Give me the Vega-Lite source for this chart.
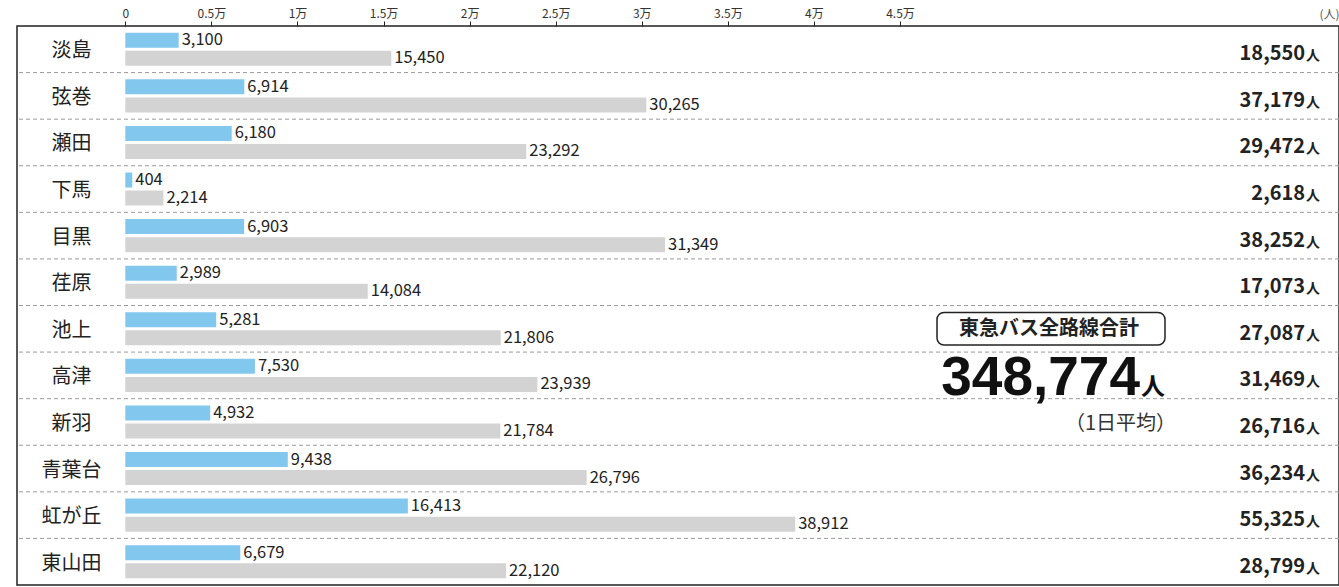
{
  "$schema": "https://vega.github.io/schema/vega-lite/v6.json",
  "width": 1322,
  "height": 559,
  "autosize": {"type": "none"},
  "padding": {"left": 17, "top": 26, "right": 0, "bottom": 2},
  "background": "white",
  "config": {
    "view": {"stroke": "#222", "strokeWidth": 1.5},
    "text": {"font": "Noto Sans CJK JP", "color": "#222"}
  },
  "datasets": {
    "bars": [
      {"station": "淡島", "type": "定期", "value": 3100},
      {"station": "淡島", "type": "定期外", "value": 15450},
      {"station": "弦巻", "type": "定期", "value": 6914},
      {"station": "弦巻", "type": "定期外", "value": 30265},
      {"station": "瀬田", "type": "定期", "value": 6180},
      {"station": "瀬田", "type": "定期外", "value": 23292},
      {"station": "下馬", "type": "定期", "value": 404},
      {"station": "下馬", "type": "定期外", "value": 2214},
      {"station": "目黒", "type": "定期", "value": 6903},
      {"station": "目黒", "type": "定期外", "value": 31349},
      {"station": "荏原", "type": "定期", "value": 2989},
      {"station": "荏原", "type": "定期外", "value": 14084},
      {"station": "池上", "type": "定期", "value": 5281},
      {"station": "池上", "type": "定期外", "value": 21806},
      {"station": "高津", "type": "定期", "value": 7530},
      {"station": "高津", "type": "定期外", "value": 23939},
      {"station": "新羽", "type": "定期", "value": 4932},
      {"station": "新羽", "type": "定期外", "value": 21784},
      {"station": "青葉台", "type": "定期", "value": 9438},
      {"station": "青葉台", "type": "定期外", "value": 26796},
      {"station": "虹が丘", "type": "定期", "value": 16413},
      {"station": "虹が丘", "type": "定期外", "value": 38912},
      {"station": "東山田", "type": "定期", "value": 6679},
      {"station": "東山田", "type": "定期外", "value": 22120}
    ],
    "stations": [
      {"station": "淡島", "total": 18550},
      {"station": "弦巻", "total": 37179},
      {"station": "瀬田", "total": 29472},
      {"station": "下馬", "total": 2618},
      {"station": "目黒", "total": 38252},
      {"station": "荏原", "total": 17073},
      {"station": "池上", "total": 27087},
      {"station": "高津", "total": 31469},
      {"station": "新羽", "total": 26716},
      {"station": "青葉台", "total": 36234},
      {"station": "虹が丘", "total": 55325},
      {"station": "東山田", "total": 28799}
    ],
    "summary": [
      {"label": "東急バス全路線合計", "total": 348774, "note": "（1日平均）"}
    ]
  },
  "layer": [
    {
      "data": {"name": "stations"},
      "transform": [{"filter": "datum.station != '淡島'"}],
      "mark": {"type": "rule", "color": "#9a9a9a", "strokeDash": [4, 3], "strokeWidth": 1},
      "encoding": {
        "y": {
          "field": "station", "type": "nominal", "bandPosition": 0,
          "scale": {"domain": ["淡島", "弦巻", "瀬田", "下馬", "目黒", "荏原", "池上", "高津", "新羽", "青葉台", "虹が丘", "東山田"], "paddingInner": 0, "paddingOuter": 0},
          "axis": {
            "title": null, "domain": false, "ticks": false, "tickSize": 0, "grid": false,
            "labelAlign": "center", "labelBaseline": "middle", "labelPadding": -54, "labelOffset": 2,
            "labelFont": "Noto Sans CJK JP", "labelFontSize": 20, "labelColor": "#222"
          }
        }
      }
    },
    {
      "data": {"name": "bars"},
      "mark": {"type": "bar"},
      "encoding": {
        "y": {"field": "station", "type": "nominal", "title": null},
        "yOffset": {"field": "type", "type": "nominal", "sort": ["定期", "定期外"], "scale": {"paddingInner": 0.1667, "paddingOuter": 0.377}},
        "x": {
          "field": "value", "type": "quantitative",
          "scale": {"domain": [-6291, 70498], "nice": false, "zero": false},
          "axis": {
            "orient": "top", "values": [0, 5000, 10000, 15000, 20000, 25000, 30000, 35000, 40000, 45000],
            "labelExpr": "datum.value == 0 ? '0' : (datum.value / 10000) + '万'",
            "domain": false, "grid": false, "tickSize": 5, "tickColor": "#222", "tickWidth": 1,
            "labelFont": "Noto Sans CJK JP", "labelFontSize": 12, "labelColor": "#333", "labelPadding": 1,
            "title": "(人)", "titleFont": "Noto Sans CJK JP", "titleFontSize": 12, "titleFontWeight": "normal",
            "titleColor": "#555", "titleX": 1322, "titleY": -12, "titleAlign": "right", "titleBaseline": "middle", "titleAnchor": "end"
          }
        },
        "color": {"field": "type", "type": "nominal", "scale": {"domain": ["定期", "定期外"], "range": ["#82c7ee", "#d3d3d3"]}, "legend": null}
      }
    },
    {
      "data": {"name": "bars"},
      "mark": {"type": "text", "align": "left", "baseline": "middle", "dx": 3, "fontSize": 16.5, "font": "Noto Sans CJK JP", "color": "#222"},
      "encoding": {
        "y": {"field": "station", "type": "nominal"},
        "yOffset": {"field": "type", "type": "nominal", "sort": ["定期", "定期外"]},
        "x": {"field": "value", "type": "quantitative"},
        "text": {"field": "value", "type": "quantitative", "format": ",d"}
      }
    },
    {
      "mark": {"type": "rule", "color": "#222", "strokeWidth": 1.5},
      "encoding": {"x": {"datum": 0, "type": "quantitative"}}
    },
    {
      "data": {"name": "stations"},
      "mark": {"type": "text", "align": "right", "baseline": "alphabetic", "dy": 11, "fontSize": 20, "fontWeight": "bold", "font": "Noto Sans CJK JP", "color": "#222"},
      "encoding": {
        "y": {"field": "station", "type": "nominal"},
        "x": {"datum": 68525, "type": "quantitative"},
        "text": {"field": "total", "type": "quantitative", "format": ",d"}
      }
    },
    {
      "data": {"name": "stations"},
      "mark": {"type": "text", "align": "left", "baseline": "alphabetic", "dy": 11, "dx": 1, "fontSize": 14, "fontWeight": "bold", "font": "Noto Sans CJK JP", "color": "#222", "text": "人"},
      "encoding": {
        "y": {"field": "station", "type": "nominal"},
        "x": {"datum": 68525, "type": "quantitative"}
      }
    },
    {
      "data": {"name": "summary"},
      "mark": {"type": "bar", "height": {"band": 0.7}, "cornerRadius": 7, "fill": "white", "stroke": "#222", "strokeWidth": 1.5},
      "encoding": {
        "y": {"datum": "池上", "type": "nominal"},
        "x": {"datum": 47148, "type": "quantitative"},
        "x2": {"datum": 60391}
      }
    },
    {
      "data": {"name": "summary"},
      "mark": {"type": "text", "align": "center", "baseline": "middle", "fontSize": 20, "fontWeight": "bold", "font": "Noto Sans CJK JP", "color": "#222"},
      "encoding": {
        "y": {"datum": "池上", "type": "nominal"},
        "x": {"datum": 53654, "type": "quantitative"},
        "text": {"field": "label", "type": "nominal"}
      }
    },
    {
      "data": {"name": "summary"},
      "mark": {"type": "text", "align": "right", "baseline": "alphabetic", "dy": 19.5, "fontSize": 55, "fontWeight": "bold", "font": "Liberation Sans", "color": "#111"},
      "encoding": {
        "y": {"datum": "高津", "type": "nominal"},
        "x": {"datum": 58940, "type": "quantitative"},
        "text": {"field": "total", "type": "quantitative", "format": ",d"}
      }
    },
    {
      "data": {"name": "summary"},
      "mark": {"type": "text", "align": "left", "baseline": "alphabetic", "dy": 19.5, "dx": 1, "fontSize": 24, "fontWeight": "bold", "font": "Noto Sans CJK JP", "color": "#111", "text": "人"},
      "encoding": {
        "y": {"datum": "高津", "type": "nominal"},
        "x": {"datum": 58940, "type": "quantitative"}
      }
    },
    {
      "data": {"name": "summary"},
      "mark": {"type": "text", "align": "right", "baseline": "middle", "dy": 2, "fontSize": 20, "font": "Noto Sans CJK JP", "color": "#333"},
      "encoding": {
        "y": {"datum": "新羽", "type": "nominal"},
        "x": {"datum": 61030, "type": "quantitative"},
        "text": {"field": "note", "type": "nominal"}
      }
    }
  ]
}
